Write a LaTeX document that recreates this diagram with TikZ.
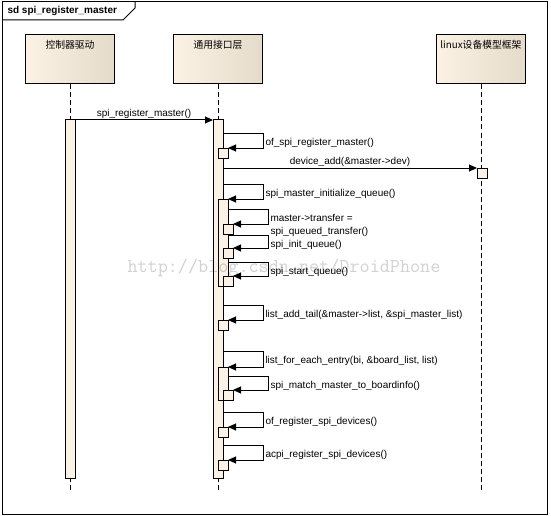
\documentclass[tikz,border=0pt]{standalone}
\usepackage{fontspec}
\setmainfont{Liberation Sans}
\newfontfamily\cjk{Noto Sans CJK SC}
\usetikzlibrary{arrows.meta}
\definecolor{headleft}{HTML}{FBF2E4}
\definecolor{headright}{HTML}{E4DBCA}
\definecolor{actfill}{HTML}{FBF1E4}

\begin{document}
\begin{tikzpicture}[x=1pt,y=-1pt,line width=1pt,
        head/.style={draw, left color=headleft, right color=headright, minimum width=89pt, minimum height=49pt, inner sep=0pt},
        headtext/.style={font=\cjk\fontsize{9.8}{11}\selectfont, inner sep=2pt},
        act/.style={draw, fill=actfill, minimum width=10pt, inner sep=0pt, outer sep=0pt, anchor=north},
        lifeline/.style={dash pattern=on 5pt off 3pt},
        msg/.style={-{Triangle[length=8pt,width=7pt]}},
        msglabel/.style={font=\fontsize{10}{13}\selectfont, inner sep=1pt},
        calllabel/.style={msglabel, anchor=north west, align=left, xshift=1pt, yshift=-3.5pt}]
        \useasboundingbox (0,0) rectangle (551,516);

        % Frame sd
        \draw (2,2) rectangle (547,514);
        \draw (2,20) -- (123,20) -- (135,8) -- (135,2);
        \node[font=\bfseries\fontsize{10}{12}\selectfont, anchor=west, inner sep=0pt] (title) at (7,11) {sd spi\_register\_master};

        % Lifeline heads
        \node[head, label={[headtext, anchor=north, yshift=-3pt]north:控制器驱动}] (ctrl) at (70,59.5) {};
        \node[head, label={[headtext, anchor=north, yshift=-3pt]north:通用接口层}] (core) at (218,59.5) {};
        \node[head, label={[headtext, anchor=north, yshift=-3pt]north:linux设备模型框架}] (model) at (481,59.5) {};

        % Lifelines
        \draw[lifeline] (ctrl.south) -- ++(0,405);
        \draw[lifeline] (core.south) -- ++(0,405);
        \draw[lifeline] (model.south |- core.south) -- ++(0,405);

        % Activations
        \node[act, minimum height=358pt] (actA) at (70,120) {};
        \node[act, minimum height=358pt] (actB) at (218,120) {};

        % spi_register_master()
        \draw[msg] (actA.north east) -- node[msglabel, above] {spi\_register\_master()} (actB.north west);

        % of_spi_register_master()
        \node[act, minimum height=10pt] (regof) at (223,148) {};
        \draw[msg] (actB.east |- 0,133) -- ++(40,0) node[calllabel] {of\_spi\_register\_master()} |- (regof.north east);

        % device_add()
        \node[act, minimum height=10pt] (devadd) at (482,168) {};
        \draw[msg] (actB.east |- devadd.north) -- node[msglabel, above] {device\_add(\&master->dev)} (devadd.north west);

        % spi_master_initialize_queue()
        \node[act, minimum height=87pt] (initq) at (223,199) {};
        \draw[msg] (actB.east |- 0,184) -- ++(40,0) node[calllabel] {spi\_master\_initialize\_queue()} |- (initq.north east);
        \node[act, minimum height=10pt] (xfer) at (228,224) {};
        \draw[msg] (initq.east |- 0,209) -- ++(40,0) node[calllabel] {master->transfer =\\spi\_queued\_transfer()} |- (xfer.north east);
        \node[act, minimum height=10pt] (qinit) at (228,248) {};
        \draw[msg] (initq.east |- 0,235) -- ++(40,0) node[calllabel] {spi\_init\_queue()} |- (qinit.north east);
        \node[act, minimum height=10pt] (qstart) at (228,276) {};
        \draw[msg] (initq.east |- 0,262) -- ++(40,0) node[calllabel] {spi\_start\_queue()} |- (qstart.north east);

        % list_add_tail()
        \node[act, minimum height=10pt] (addtail) at (223,320) {};
        \draw[msg] (actB.east |- 0,305) -- ++(40,0) node[calllabel] {list\_add\_tail(\&master->list, \&spi\_master\_list)} |- (addtail.north east);

        % list_for_each_entry()
        \node[act, minimum height=33pt] (foreach) at (223,367) {};
        \draw[msg] (actB.east |- 0,351) -- ++(40,0) node[calllabel] {list\_for\_each\_entry(bi, \&board\_list, list)} |- (foreach.north east);
        \node[act, minimum height=10pt] (match) at (228,390) {};
        \draw[msg] (foreach.east |- 0,376) -- ++(40,0) node[calllabel] {spi\_match\_master\_to\_boardinfo()} |- (match.north east);

        % of / acpi devices
        \node[act, minimum height=10pt] (ofdev) at (223,427) {};
        \draw[msg] (actB.east |- 0,412) -- ++(40,0) node[calllabel] {of\_register\_spi\_devices()} |- (ofdev.north east);
        \node[act, minimum height=10pt] (acpidev) at (223,460) {};
        \draw[msg] (actB.east |- 0,445) -- ++(40,0) node[calllabel] {acpi\_register\_spi\_devices()} |- (acpidev.north east);

        % watermark
        \node[font=\ttfamily\fontsize{19.6}{20}\selectfont, text=black, text opacity=0.18, anchor=west, inner sep=0pt] (mark) at (127,268) {http://blog.csdn.net/DroidPhone};
    \end{tikzpicture}
\end{document}
